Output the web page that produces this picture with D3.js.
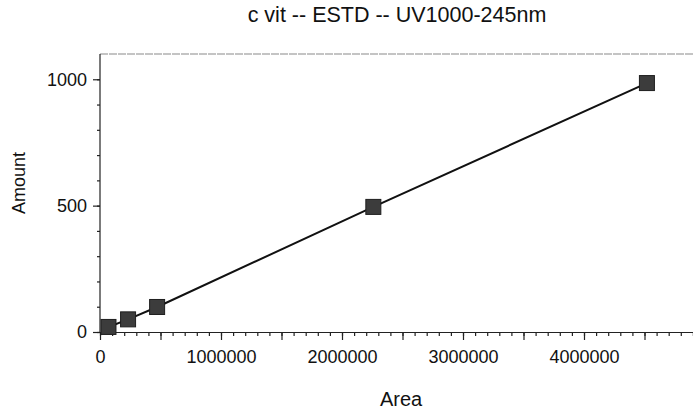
<!DOCTYPE html>
<html>
<head>
<meta charset="utf-8">
<script src="https://cdn.jsdelivr.net/npm/d3@7"></script>
<style>
  body { margin: 0; background: #fff; }
  text { font-family: "Liberation Sans", Arial, sans-serif; fill: #111; }
</style>
</head>
<body>
<svg id="chart" width="693" height="413"></svg>
<script>
// calibration points
var areas = [70000, 232000, 472000, 2259000, 4520000];
var amounts = [20, 50, 99, 495, 985];

var xTickLabels = [0, 1000000, 2000000, 3000000, 4000000];
var yTickLabels = [0, 500, 1000];

var title = "c vit -- ESTD -- UV1000-245nm";

var svg = d3.select("#chart"),
    margin = {top: 54, left: 100, bottom: 81, right: -12},
    width = +svg.attr("width"),
    height = +svg.attr("height");

var x = d3.scaleLinear()
    .domain([0, 5000000])
    .range([margin.left, width - margin.right]);

var y = d3.scaleLinear()
    .domain([0, 1100])
    .range([height - margin.bottom, margin.top]);

var data = areas.map((a, i) => ({area: a, amount: amounts[i]}));

// top frame line (faint in the scan)
svg.append("line")
    .attr("x1", margin.left).attr("x2", width)
    .attr("y1", y(1100)).attr("y2", y(1100))
    .attr("stroke", "#8a8a8a")
    .attr("stroke-width", 1.2)
    .attr("stroke-dasharray", "8,1");

// x axis: minor ticks every 100000, longer every 500000
var xMinor = g => g
    .attr("transform", "translate(0," + y(0) + ")")
    .call(d3.axisBottom(x).tickValues(d3.range(0, 5000001, 100000))
        .tickSize(4).tickFormat(""))
    .call(g => g.select(".domain").remove());

var xMajor = g => g
    .attr("transform", "translate(0," + y(0) + ")")
    .call(d3.axisBottom(x).tickValues(d3.range(0, 5000001, 500000))
        .tickSize(8).tickSizeOuter(0)
        .tickFormat(d => xTickLabels.indexOf(d) >= 0 ? d3.format("d")(d) : ""))
    .call(g => g.selectAll("text").attr("font-size", 18).attr("dy", "1.1em"));

var yMinor = g => g
    .attr("transform", "translate(" + margin.left + ",0)")
    .call(d3.axisLeft(y).tickValues(d3.range(0, 1001, 100))
        .tickSize(3).tickFormat(""))
    .call(g => g.select(".domain").remove());

var yMajor = g => g
    .attr("transform", "translate(" + margin.left + ",0)")
    .call(d3.axisLeft(y).tickValues(yTickLabels)
        .tickSize(7).tickSizeOuter(0).tickFormat(d3.format("d")))
    .call(g => g.select(".domain").attr("d", "M0," + y(0) + "V" + y(1100)))
    .call(g => g.selectAll("text").attr("font-size", 18).attr("x", -13));

svg.append("g").attr("class", "x-minor").call(xMinor);
svg.append("g").attr("class", "x-axis").call(xMajor);
svg.append("g").attr("class", "y-minor").call(yMinor);
svg.append("g").attr("class", "y-axis").call(yMajor);

svg.selectAll(".domain, .tick line")
    .attr("stroke", "#222")
    .attr("stroke-width", 1.2);
svg.selectAll(".tick text").attr("fill", "#111");

// calibration line
var line = d3.line()
    .x(d => x(d.area))
    .y(d => y(d.amount));

svg.append("path")
    .datum(data)
    .attr("fill", "none")
    .attr("stroke", "#111")
    .attr("stroke-width", 2)
    .attr("d", line);

var s = 15;
svg.selectAll(".pt")
    .data(data)
  .enter().append("rect")
    .attr("class", "pt")
    .attr("x", d => x(d.area) - s / 2)
    .attr("y", d => y(d.amount) - s / 2)
    .attr("width", s)
    .attr("height", s)
    .attr("fill", "#3c3c3c")
    .attr("stroke", "#1e1e1e")
    .attr("stroke-width", 1);

// titles
svg.append("text")
    .attr("x", 397)
    .attr("y", 22)
    .attr("text-anchor", "middle")
    .attr("font-size", 21.5)
    .text(title);

svg.append("text")
    .attr("x", 401)
    .attr("y", 406)
    .attr("text-anchor", "middle")
    .attr("font-size", 20)
    .text("Area");

svg.append("text")
    .attr("transform", "translate(25,183) rotate(-90)")
    .attr("text-anchor", "middle")
    .attr("font-size", 18)
    .text("Amount");
</script>
</body>
</html>
